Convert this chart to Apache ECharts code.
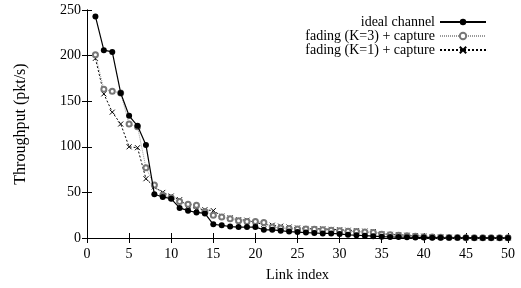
<!DOCTYPE html>
<html>
<head>
<meta charset="utf-8">
<script src="https://cdn.jsdelivr.net/npm/echarts@6/dist/echarts.min.js"></script>
<style>
  html, body { margin: 0; padding: 0; background: #fff; }
  #chart { width: 521px; height: 288px; }
</style>
</head>
<body>
<div id="chart"></div>
<script>
// link index 1..50
var links = [];
for (var i = 1; i <= 50; i++) { links.push(i); }

var ideal = [243, 206, 204, 159, 134, 123, 102, 48, 45, 43,
             33, 30, 28, 27, 15, 14, 12.5, 12, 12, 12,
             9, 9, 8, 7, 6.5, 6, 5.5, 5, 5, 4.5,
             3.5, 3, 2.5, 2, 1.5, 1.2, 1, 0.8, 0.6, 0.5,
             0.4, 0.3, 0.3, 0.2, 0.2, 0.1, 0.1, 0.1, 0.1, 0.1];

var fadingK3 = [201, 163, 161, 159, 125, 122, 77, 58, 47, 44,
                40, 37, 36, 29, 25, 23, 21, 19, 18, 18,
                17, 12, 11, 10.5, 10, 10, 9.5, 9, 8.5, 8,
                7.5, 7, 6.5, 6, 4, 3.5, 3, 2.5, 2, 1.5,
                1, 0.8, 0.6, 0.5, 0.4, 0.3, 0.3, 0.2, 0.2, 0.2];

var fadingK1 = [197, 158, 138, 125, 100, 99, 65, 56, 50, 46,
                42, 35, 32, 31, 30, 24, 22, 20, 19.5, 17,
                15, 14, 13, 12, 11, 10.5, 10, 10, 9.5, 9,
                8.5, 8, 7.5, 7, 4.5, 4, 3.5, 3, 2.5, 2,
                1.5, 1, 0.8, 0.6, 0.5, 0.4, 0.3, 0.3, 0.2, 0.2];

var xTicks = [0, 5, 10, 15, 20, 25, 30, 35, 40, 45, 50];
var yTicks = [0, 50, 100, 150, 200, 250];

function pairs(vals) {
    var out = [];
    for (var i = 0; i < links.length; i++) { out.push([links[i], vals[i]]); }
    return out;
}

var font = '"Liberation Serif", "DejaVu Serif", serif';

var axisBase = {
    type: 'value',
    axisLine: { show: true, lineStyle: { color: '#000', width: 1 } },
    axisTick: { show: true, inside: true, length: 5, lineStyle: { color: '#000' } },
    splitLine: { show: false }
};

var option = {
    animation: false,
    backgroundColor: '#fff',
    grid: { left: 87, right: 13, top: 10, bottom: 50, outerBoundsMode: 'none' },
    legend: {
        orient: 'vertical',
        right: 29,
        top: 10,
        align: 'right',
        itemWidth: 46,
        itemHeight: 8,
        itemGap: 0,
        textStyle: { fontFamily: font, fontSize: 14, color: '#000', lineHeight: 12.5 },
        data: ['ideal channel', 'fading (K=3) + capture', 'fading (K=1) + capture']
    },
    xAxis: [
        Object.assign({}, axisBase, {
            min: xTicks[0], max: xTicks[xTicks.length - 1], interval: 5,
            position: 'bottom',
            name: 'Link index', nameLocation: 'middle', nameGap: 30,
            nameTextStyle: { fontFamily: font, fontSize: 14.5, color: '#000' },
            axisLabel: { fontFamily: font, fontSize: 14, color: '#000', margin: 9 }
        }),
        Object.assign({}, axisBase, {
            min: xTicks[0], max: xTicks[xTicks.length - 1], interval: 5,
            position: 'top', axisLabel: { show: false }
        })
    ],
    yAxis: [
        Object.assign({}, axisBase, {
            min: yTicks[0], max: yTicks[yTicks.length - 1], interval: 50,
            position: 'left',
            name: 'Throughput (pkt/s)', nameLocation: 'middle', nameGap: 58,
            nameTextStyle: { fontFamily: font, fontSize: 16, color: '#000' },
            axisLabel: { fontFamily: font, fontSize: 14, color: '#000', margin: 6 }
        }),
        Object.assign({}, axisBase, {
            min: yTicks[0], max: yTicks[yTicks.length - 1], interval: 50,
            position: 'right', axisLabel: { show: false }
        })
    ],
    series: [
        {
            name: 'ideal channel',
            type: 'line',
            data: pairs(ideal),
            symbol: 'circle',
            symbolSize: 6,
            showAllSymbol: true,
            lineStyle: { color: '#000', width: 1.2 },
            itemStyle: { color: '#000' },
            z: 5
        },
        {
            name: 'fading (K=3) + capture',
            type: 'line',
            data: pairs(fadingK3),
            symbol: 'emptyCircle',
            symbolSize: 5,
            showAllSymbol: true,
            lineStyle: { color: '#999', width: 1, type: [1, 1] },
            itemStyle: { color: '#777', borderColor: '#777', borderWidth: 1 },
            z: 4
        },
        {
            name: 'fading (K=1) + capture',
            type: 'line',
            data: pairs(fadingK1),
            symbol: 'path://M0,0L10,10M10,0L0,10',
            symbolSize: 5,
            showAllSymbol: true,
            lineStyle: { color: '#000', width: 1, type: [2, 2] },
            itemStyle: { color: 'transparent', borderColor: '#000', borderWidth: 1 },
            z: 3
        }
    ]
};

var myChart = echarts.init(document.getElementById('chart'));
myChart.setOption(option);
</script>
</body>
</html>
